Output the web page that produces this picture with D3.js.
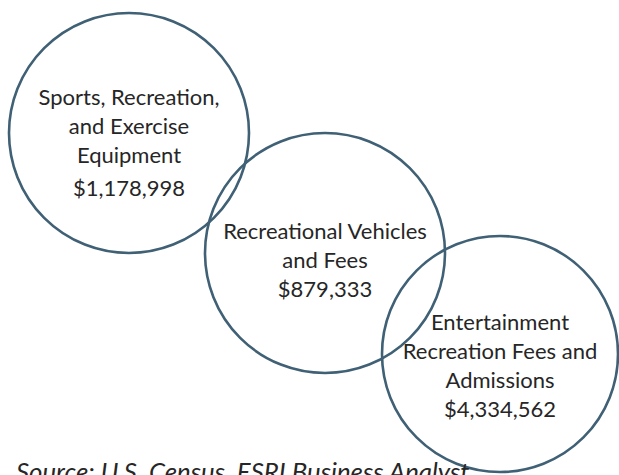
<!DOCTYPE html>
<html>
<head>
<meta charset="utf-8">
<script src="https://cdn.jsdelivr.net/npm/d3@7"></script>
<style>
  body { margin: 0; background: #fff; }
  svg { display: block; }
  .lbl { font-family: Lato, "Open Sans", sans-serif; fill: #262626; }
</style>
</head>
<body>
<svg width="619" height="475"></svg>
<script>
// categories and their spending values
var categories = ["sports", "vehicles", "entertainment"];
var labelLines = [
    ["Sports, Recreation,", "and Exercise", "Equipment"],
    ["Recreational Vehicles", "and Fees"],
    ["Entertainment", "Recreation Fees and", "Admissions"]
];
var spending = [1178998, 879333, 4334562];
var sourceNote = "Source: U.S. Census, ESRI Business Analyst";

var svg = d3.select("svg"),
    width = +svg.attr("width"),
    height = +svg.attr("height");

var format = d3.format(",d");

// diagram layout, circles step down to the right
var x = d3.scaleOrdinal(categories, [129, 325, 500]);
var y = d3.scaleOrdinal(categories, [133, 253, 354]);
var textShift = d3.scaleOrdinal(categories, [15, 15, 19]);
var r = 120;
var lineH = 29;

var data = categories.map(function(c, i) {
    return { key: c, lines: labelLines[i], value: spending[i] };
});

var node = svg.selectAll(".node")
    .data(data)
    .enter().append("g")
    .attr("class", "node")
    .attr("transform", function(d) { return "translate(" + x(d.key) + "," + y(d.key) + ")"; });

node.append("circle")
    .attr("r", function(d, i) { return i == 2 ? 118 : r; })
    .style("fill", "none")
    .style("stroke", "#3f6075")
    .style("stroke-width", 2.6);

node.append("text")
    .attr("class", "lbl")
    .attr("text-anchor", "middle")
    .style("font-size", "22px")
    .each(function(d) {
        var n = d.lines.length + 1;
        d3.select(this).selectAll("tspan")
            .data(d.lines.concat(["$" + format(d.value)]))
            .enter().append("tspan")
            .attr("x", 0)
            .attr("y", function(t, i) {
                var off = (i - (n - 1) / 2) * lineH + textShift(d.key);
                // the value line sits a little lower in the first circle
                if (d.key == "sports" && i == n - 1) off += 4;
                return off;
            })
            .text(function(t) { return t; });
    });

svg.append("text")
    .attr("class", "lbl")
    .attr("x", 16)
    .attr("y", 481)
    .style("font-size", "25.8px")
    .style("font-style", "italic")
    .text(sourceNote);
</script>
</body>
</html>
